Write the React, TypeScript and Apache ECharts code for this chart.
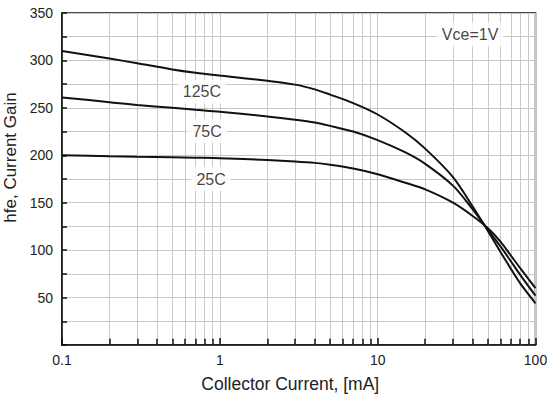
import React, { useEffect, useRef } from "react";
import * as echarts from "echarts";

// Collector current (mA)
const currents = [0.1, 0.2, 0.3, 0.5, 0.7, 1, 2, 3, 4, 5, 7, 10, 15, 20, 30, 40, 50, 60, 70, 80, 100];
// hfe values per temperature
const hfe125 = [310, 302, 297, 290.5, 287, 284, 278.5, 274.5, 269.5, 264, 255, 243, 224, 207, 177, 146, 120, 98, 80, 65, 44];
const hfe75 = [261, 256, 253, 250, 248, 246, 241, 237.5, 234.5, 231, 225, 216, 203, 191, 168, 143, 121.5, 104, 88, 74, 52];
const hfe25 = [200, 199, 198.5, 198, 197.5, 197, 195, 193.5, 192, 190, 186, 180, 171, 164, 150, 136, 123, 109, 94, 81, 60];

// log minor gridline values
const minorX = [0.2, 0.3, 0.4, 0.5, 0.6, 0.7, 0.8, 0.9, 2, 3, 4, 5, 6, 7, 8, 9, 20, 30, 40, 50, 60, 70, 80, 90];
const xTicks = [0.1, 1, 10, 100];

// in-plot labels: [current, hfe, text]
const curveLabels: [number, number, string][] = [
  [0.77, 267, "125C"],
  [0.83, 225.5, "75C"],
  [0.88, 175, "25C"],
  [38.5, 327, "Vce=1V"],
];

const FONT = "'Liberation Sans', Arial, Helvetica, sans-serif";

export default function App() {
  const ref = useRef<HTMLDivElement>(null);
  useEffect(() => {
    if (!ref.current) return;
    const chart = echarts.init(ref.current, undefined, { renderer: "svg" });
    const mk = (ys: number[]) => currents.map((x, i) => [x, ys[i]]);
    const lineStyle = { color: "#111", width: 2 };
    const curve = (name: string, ys: number[]) => ({
      type: "line",
      name,
      data: mk(ys),
      smooth: 0.3,
      showSymbol: false,
      lineStyle,
      z: 20,
    });
    chart.setOption({
      animation: false,
      textStyle: { fontFamily: FONT },
      grid: {
        left: 62,
        right: 11.5,
        top: 13,
        bottom: 53,
        outerBoundsMode: "none",
        containLabel: false,
        show: true,
        borderColor: "#111",
        borderWidth: 1.5,
        backgroundColor: "transparent",
      },
      xAxis: {
        type: "log",
        logBase: 10,
        min: 0.1,
        max: 100,
        name: "Collector Current, [mA]",
        nameLocation: "middle",
        nameGap: 30,
        nameTextStyle: { fontSize: 17.5, color: "#222", fontFamily: FONT, padding: [0, 17, 0, 0] },
        axisLine: { show: true, lineStyle: { color: "#111", width: 1.5 } },
        axisTick: { show: true, inside: true, length: 7, lineStyle: { color: "#111", width: 1.5 } },
        axisLabel: {
          fontSize: 14,
          color: "#222",
          margin: 8,
          fontFamily: FONT,
          formatter: (v: number) => {
            const m = xTicks.find((t) => Math.abs(t - v) / t < 1e-6);
            return m === undefined ? "" : String(m);
          },
        },
        splitLine: { show: true, lineStyle: { color: "#c8c8c8", width: 1 } },
      },
      yAxis: {
        type: "value",
        min: 0,
        max: 350,
        interval: 25,
        name: "hfe, Current Gain",
        nameLocation: "middle",
        nameGap: 31,
        nameTextStyle: { fontSize: 17, color: "#222", fontFamily: FONT, padding: [0, 0, 0, 43] },
        axisLine: { show: true, lineStyle: { color: "#111", width: 1.5 } },
        axisTick: { show: true, inside: true, length: 5, lineStyle: { color: "#111", width: 1.5 } },
        axisLabel: {
          fontSize: 14,
          color: "#222",
          margin: 9,
          fontFamily: FONT,
          formatter: (v: number) => (v > 0 && v % 50 === 0 ? String(v) : ""),
        },
        splitLine: { show: true, lineStyle: { color: "#c8c8c8", width: 1 } },
      },
      series: [
        {
          type: "line",
          data: [],
          z: 1,
          silent: true,
          markLine: {
            silent: true,
            symbol: "none",
            label: { show: false },
            animation: false,
            lineStyle: { color: "#c8c8c8", width: 1, type: "solid" },
            data: minorX.map((v) => ({ xAxis: v })),
          },
        },
        {
          type: "line",
          data: [],
          z: 3,
          silent: true,
          markLine: {
            silent: true,
            symbol: "none",
            label: { show: false },
            animation: false,
            lineStyle: { color: "#111", width: 1.5, type: "solid" },
            data: minorX.map((v) => [{ coord: [v, 0] }, { coord: [v, 6.5] }]),
          },
        },
        {
          type: "scatter",
          z: 10,
          symbolSize: 2,
          itemStyle: { color: "rgba(0,0,0,0)" },
          silent: true,
          data: curveLabels.map(([x, y, t]) => ({ value: [x, y], name: t })),
          label: {
            show: true,
            position: "inside",
            formatter: (p: any) => p.name,
            fontSize: 16,
            color: "#111",
            fontFamily: FONT,
            backgroundColor: "#fff",
            padding: [4, 5],
          },
          labelLayout: { hideOverlap: false },
        },
        curve("125C", hfe125),
        curve("75C", hfe75),
        curve("25C", hfe25),
      ],
    });
    return () => chart.dispose();
  }, []);
  return <div ref={ref} style={{ width: 547, height: 398, position: "absolute", left: 0, top: 0 }} />;
}
